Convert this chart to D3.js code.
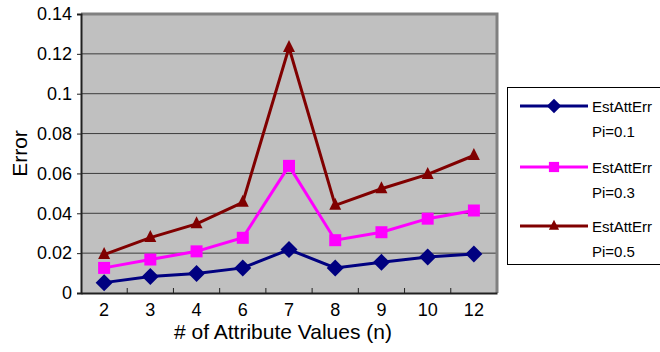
<!DOCTYPE html>
<html>
<head>
<meta charset="utf-8">
<script src="https://cdn.jsdelivr.net/npm/d3@7"></script>
<style>
  html, body { margin: 0; padding: 0; background: #fff; }
  svg { display: block; font-family: "Liberation Sans", Arial, sans-serif; }
</style>
</head>
<body>
<svg id="chart" width="660" height="352"></svg>
<script>
// Number of attribute values on the x axis
const categories = ["2", "3", "4", "6", "7", "8", "9", "10", "12"];

// Estimated attribute error per series
const errPi01 = [0.0052, 0.0083, 0.0098, 0.0126, 0.0218, 0.0126, 0.0154, 0.0181, 0.0196];
const errPi03 = [0.0126, 0.0168, 0.0209, 0.0277, 0.0638, 0.0265, 0.0305, 0.0373, 0.0414];
const errPi05 = [0.0193, 0.0278, 0.0347, 0.0455, 0.1232, 0.0440, 0.0523, 0.0595, 0.0690];

const yTicks = [0, 0.02, 0.04, 0.06, 0.08, 0.1, 0.12, 0.14];
const yTickLabels = ["0", "0.02", "0.04", "0.06", "0.08", "0.1", "0.12", "0.14"];

const seriesNames = ["EstAttErr", "EstAttErr", "EstAttErr"];
const seriesSubNames = ["Pi=0.1", "Pi=0.3", "Pi=0.5"];
const seriesColors = ["#000080", "#ff00ff", "#800000"];
const seriesShapes = ["diamond", "square", "triangle"];
const seriesValues = [errPi01, errPi03, errPi05];

const svg = d3.select("#chart");
const plot = { left: 81, top: 14, right: 497, bottom: 293 };

const x = d3.scaleBand().domain(categories).range([plot.left, plot.right]).padding(0);
const y = d3.scaleLinear().domain([0, 0.14]).range([plot.bottom, plot.top]);

// Plot background
svg.append("rect")
  .attr("x", plot.left).attr("y", plot.top)
  .attr("width", plot.right - plot.left).attr("height", plot.bottom - plot.top)
  .attr("fill", "#c0c0c0");

// Horizontal gridlines
svg.append("g")
  .selectAll("line")
  .data(yTicks.filter(d => d > 0 && d < 0.14))
  .join("line")
  .attr("x1", plot.left).attr("x2", plot.right)
  .attr("y1", d => y(d)).attr("y2", d => y(d))
  .attr("stroke", "#3c3c3c").attr("stroke-width", 1);

// Plot border (top and right edges)
svg.append("path")
  .attr("d", `M${plot.left},${plot.top} H${plot.right} V${plot.bottom}`)
  .attr("fill", "none").attr("stroke", "#808080").attr("stroke-width", 3);

// Y axis
const yAxis = d3.axisLeft(y)
  .tickValues(yTicks)
  .tickFormat((d, i) => yTickLabels[i])
  .tickSize(4).tickPadding(5);
const gy = svg.append("g").attr("transform", `translate(${plot.left},0)`).call(yAxis);
gy.select(".domain").attr("stroke", "#202020").attr("stroke-width", 2);
gy.selectAll(".tick line").attr("stroke", "#202020");
gy.selectAll(".tick text").attr("font-size", 18).attr("fill", "#000")
  .attr("font-family", "Liberation Sans, Arial, sans-serif");

// X axis with tick marks at category boundaries
const xAxis = d3.axisBottom(x).tickSize(0).tickPadding(10);
const gx = svg.append("g").attr("transform", `translate(0,${plot.bottom})`).call(xAxis);
gx.select(".domain").attr("stroke", "#202020").attr("stroke-width", 2);
gx.selectAll(".tick text").attr("font-size", 18).attr("fill", "#000")
  .attr("font-family", "Liberation Sans, Arial, sans-serif");
svg.append("g")
  .selectAll("line")
  .data(categories.slice(1))
  .join("line")
  .attr("x1", d => x(d)).attr("x2", d => x(d))
  .attr("y1", plot.bottom).attr("y2", plot.bottom - 5)
  .attr("stroke", "#202020").attr("stroke-width", 1);

// Axis titles
svg.append("text")
  .attr("x", 283).attr("y", 339)
  .attr("text-anchor", "middle").attr("font-size", 21)
  .text("# of Attribute Values (n)");
svg.append("text")
  .attr("transform", `translate(27,${(plot.top + plot.bottom) / 2}) rotate(-90)`)
  .attr("text-anchor", "middle").attr("font-size", 21)
  .text("Error");

// Marker shapes
const markerPath = {
  diamond: "M0,-8.5L8.5,0L0,8.5L-8.5,0Z",
  square: "M-6,-6H6V6H-6Z",
  triangle: "M0,-7.5L6,4.5H-6Z"
};

const line = d3.line()
  .x((d, i) => x(categories[i]) + x.bandwidth() / 2)
  .y(d => y(d));

seriesValues.forEach((vals, s) => {
  const g = svg.append("g");
  g.append("path")
    .datum(vals)
    .attr("d", line)
    .attr("fill", "none")
    .attr("stroke", seriesColors[s])
    .attr("stroke-width", 3)
    .attr("stroke-linejoin", "miter");
  g.selectAll("path.marker")
    .data(vals)
    .join("path")
    .attr("class", "marker")
    .attr("d", markerPath[seriesShapes[s]])
    .attr("transform", (d, i) => `translate(${x(categories[i]) + x.bandwidth() / 2},${y(d)})`)
    .attr("fill", seriesColors[s]);
});

// Legend
const legend = svg.append("g");
legend.append("rect")
  .attr("x", 507.5).attr("y", 87.5).attr("width", 160).attr("height", 177)
  .attr("fill", "#fff").attr("stroke", "#000").attr("stroke-width", 1);
const legendY = [106, 167, 226];
seriesNames.forEach((name, s) => {
  const ly = legendY[s];
  legend.append("line")
    .attr("x1", 520).attr("x2", 588).attr("y1", ly).attr("y2", ly)
    .attr("stroke", seriesColors[s]).attr("stroke-width", 3);
  legend.append("path")
    .attr("d", markerPath[seriesShapes[s]])
    .attr("transform", `translate(554,${ly}) scale(0.85)`)
    .attr("fill", seriesColors[s]);
  legend.append("text")
    .attr("x", 592).attr("y", ly + 5.5)
    .attr("font-size", 15).text(name);
  legend.append("text")
    .attr("x", 592).attr("y", ly + 30.5)
    .attr("font-size", 15).text(seriesSubNames[s]);
});
</script>
</body>
</html>
